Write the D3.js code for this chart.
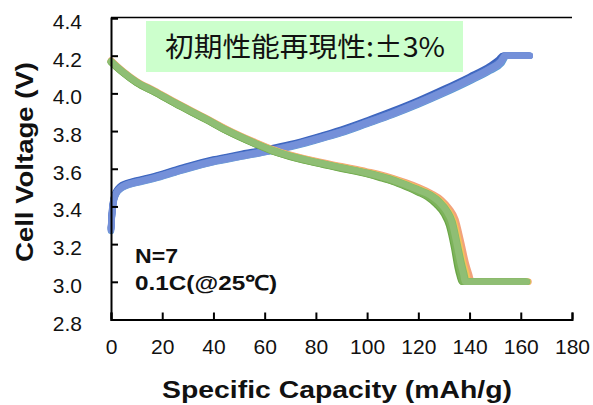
<!DOCTYPE html>
<html><head><meta charset="utf-8">
<script src="https://cdn.jsdelivr.net/npm/d3@7/dist/d3.min.js"></script>
<style>html,body{margin:0;padding:0;background:#fff;}svg{display:block;}</style>
</head><body>
<svg id="c" width="593" height="405"></svg>
<script>
// ---- data (capacity mAh/g, voltage V) ----
const xTicks = [0,20,40,60,80,100,120,140,160,180];
const yTicks = [2.8,3.0,3.2,3.4,3.6,3.8,4.0,4.2,4.4];

const charge1 = [[0,3.29],[0.4,3.38],[1,3.44],[2,3.48],[3.5,3.505],[6,3.523],[10,3.538],[17,3.561],[25,3.594],[30,3.614],[40,3.649],[50,3.676],[62,3.706],[70,3.73],[80,3.767],[90,3.808],[100,3.856],[110,3.907],[120,3.962],[130,4.023],[140,4.088],[148,4.145],[151.5,4.18],[153,4.2],[162.5,4.2]];
const charge2 = [[0,3.27],[0.4,3.35],[1,3.42],[2,3.465],[3.5,3.49],[6,3.51],[10,3.525],[17,3.548],[25,3.58],[30,3.6],[40,3.635],[50,3.662],[62,3.692],[70,3.715],[80,3.751],[90,3.79],[100,3.838],[110,3.887],[120,3.941],[130,4.0],[140,4.064],[148,4.12],[152.5,4.16],[154.5,4.2],[163.5,4.2]];
const charge3 = [[0,3.28],[0.4,3.36],[1,3.43],[2,3.47],[3.5,3.495],[6,3.514],[10,3.529],[17,3.552],[25,3.584],[30,3.604],[40,3.639],[50,3.666],[62,3.696],[70,3.719],[80,3.756],[90,3.796],[100,3.844],[110,3.894],[120,3.949],[130,4.009],[140,4.074],[148,4.13],[152,4.167],[154,4.2],[163,4.2]];
const charge4 = [[0,3.285],[0.4,3.37],[1,3.435],[2,3.475],[3.5,3.5],[6,3.519],[10,3.534],[17,3.557],[25,3.59],[30,3.61],[40,3.645],[50,3.672],[62,3.702],[70,3.725],[80,3.762],[90,3.803],[100,3.851],[110,3.901],[120,3.956],[130,4.016],[140,4.081],[148,4.138],[151.8,4.172],[153.5,4.2],[163,4.2]];
const charge5 = [[0,3.275],[0.4,3.355],[1,3.425],[2,3.468],[3.5,3.493],[6,3.512],[10,3.527],[17,3.55],[25,3.582],[30,3.602],[40,3.637],[50,3.664],[62,3.694],[70,3.717],[80,3.753],[90,3.793],[100,3.841],[110,3.89],[120,3.945],[130,4.005],[140,4.069],[148,4.125],[152.2,4.163],[154.2,4.2],[163.5,4.2]];
const charge6 = [[0,3.28],[0.4,3.36],[1,3.43],[2,3.47],[3.5,3.496],[6,3.515],[10,3.53],[17,3.553],[25,3.586],[30,3.606],[40,3.641],[50,3.668],[62,3.698],[70,3.721],[80,3.758],[90,3.798],[100,3.846],[110,3.896],[120,3.951],[130,4.011],[140,4.076],[148,4.132],[152,4.168],[153.8,4.2],[163.2,4.2]];
const charge7 = [[0,3.28],[0.4,3.36],[1,3.43],[2,3.47],[3.5,3.495],[6,3.515],[10,3.53],[17,3.553],[25,3.585],[30,3.605],[40,3.64],[50,3.667],[62,3.697],[70,3.72],[80,3.757],[90,3.797],[100,3.845],[110,3.895],[120,3.95],[130,4.01],[140,4.075],[148,4.13],[152,4.165],[154,4.2],[163.5,4.2]];

const discharge1 = [[0,4.175],[2,4.15],[5,4.115],[10,4.065],[17,4.015],[25,3.955],[37,3.87],[45,3.812],[56,3.743],[62,3.709],[68,3.682],[80,3.641],[90,3.613],[100,3.585],[105,3.57],[110,3.551],[115,3.528],[120,3.502],[125,3.47],[129,3.435],[132,3.39],[134.5,3.33],[136.5,3.22],[138.5,3.1],[139.8,3.04],[140.8,3.0],[163,3.0]];
const discharge2 = [[0,4.172],[2,4.147],[5,4.112],[10,4.062],[17,4.012],[25,3.952],[37,3.867],[45,3.809],[56,3.74],[62,3.706],[68,3.679],[80,3.638],[90,3.609],[100,3.581],[105,3.565],[110,3.546],[115,3.522],[120,3.495],[124.8,3.465],[128.5,3.43],[131.5,3.382],[133.8,3.32],[135.8,3.21],[137.5,3.1],[138.7,3.045],[139.6,3.0],[162.8,3.0]];
const discharge3 = [[0,4.168],[2,4.143],[5,4.108],[10,4.058],[17,4.008],[25,3.948],[37,3.863],[45,3.804],[56,3.735],[62,3.701],[68,3.674],[80,3.633],[90,3.604],[100,3.575],[105,3.557],[110,3.537],[115,3.511],[120,3.482],[124.2,3.455],[127.6,3.42],[130.6,3.37],[132.6,3.315],[134.6,3.2],[136.1,3.1],[137.1,3.045],[137.9,3.0],[162.2,3.0]];
const discharge4 = [[0,4.165],[2,4.14],[5,4.105],[10,4.055],[17,4.005],[25,3.945],[37,3.86],[45,3.801],[56,3.732],[62,3.698],[68,3.671],[80,3.63],[90,3.6],[100,3.571],[105,3.552],[110,3.531],[115,3.504],[120,3.474],[123.5,3.45],[127,3.41],[130,3.36],[132,3.3],[134,3.18],[135.3,3.08],[136.2,3.03],[137,3.0],[161.5,3.0]];
const discharge5 = [[0,4.166],[2,4.141],[5,4.106],[10,4.056],[17,4.006],[25,3.946],[37,3.861],[45,3.802],[56,3.733],[62,3.699],[68,3.672],[80,3.631],[90,3.602],[100,3.573],[105,3.555],[110,3.534],[115,3.508],[120,3.478],[123.8,3.452],[127.3,3.415],[130.3,3.365],[132.3,3.308],[134.3,3.19],[135.7,3.09],[136.6,3.038],[137.4,3.0],[161.8,3.0]];
const discharge6 = [[0,4.171],[2,4.146],[5,4.111],[10,4.061],[17,4.011],[25,3.951],[37,3.866],[45,3.807],[56,3.738],[62,3.704],[68,3.677],[80,3.636],[90,3.607],[100,3.579],[105,3.562],[110,3.543],[115,3.518],[120,3.49],[124.8,3.462],[128.2,3.427],[131.2,3.378],[133.3,3.32],[135.3,3.2],[136.9,3.1],[137.9,3.045],[138.8,3.0],[162.5,3.0]];
const discharge7 = [[0,4.17],[2,4.145],[5,4.11],[10,4.06],[17,4.01],[25,3.95],[37,3.865],[45,3.806],[56,3.737],[62,3.703],[68,3.676],[80,3.635],[90,3.606],[100,3.577],[105,3.56],[110,3.54],[115,3.515],[120,3.487],[124.6,3.46],[128,3.425],[131,3.375],[133,3.32],[135,3.2],[136.5,3.1],[137.5,3.045],[138.3,3.0],[162.3,3.0]];

const chargeSeries = [charge1, charge2, charge3, charge4, charge5, charge6, charge7];
const dischargeSeries = [discharge1, discharge2, discharge3, discharge4, discharge5, discharge6, discharge7];
const chargeColors = ["#3d63bd", "#5b9bd5", "#8da3d6", "#4570c6", "#7c95d8", "#6f8bd6", "#7490d9"];
const dischargeColors = ["#f2a27c", "#f5c25a", "#a9c98a", "#6aa646", "#7db35b", "#86ba69", "#8fbe74"];

const boxText = "初期性能再現性:±3%";
const note1 = "N=7";
const note2 = "0.1C(@25℃)";
const xTitle = "Specific Capacity (mAh/g)";
const yTitle = "Cell Voltage (V)";

// ---- drawing ----
const svg = d3.select("#c");
const L = 111, R = 572, T = 18, B = 319.5;
const x = d3.scaleLinear().domain([0,180]).range([L,R]);
const y = d3.scaleLinear().domain([2.8,4.4]).range([B,T]);
const font = "'Liberation Sans', Arial, sans-serif";

// text box
svg.append("rect").attr("x",146).attr("y",21).attr("width",317).attr("height",51).attr("fill","#ccffcc");
svg.append("text").attr("x",165).attr("y",57)
  .attr("font-family","'Noto Sans CJK JP', sans-serif").attr("font-size",27.5).attr("fill","#111")
  .attr("textLength",280).attr("lengthAdjust","spacingAndGlyphs")
  .text(boxText);

const line = d3.line().x(d=>x(d[0])).y(d=>y(d[1])).curve(d3.curveMonotoneX);

const g = svg.append("g");
chargeSeries.forEach((s,i)=>{
  g.append("path").attr("d", line(s)).attr("fill","none").attr("stroke",chargeColors[i])
   .attr("stroke-width",6.5).attr("stroke-linecap","round").attr("stroke-linejoin","round");
});
dischargeSeries.forEach((s,i)=>{
  g.append("path").attr("d", line(s)).attr("fill","none").attr("stroke",dischargeColors[i])
   .attr("stroke-width",6.5).attr("stroke-linecap","round").attr("stroke-linejoin","round");
});

// axes
const yAxis = d3.axisLeft(y).tickValues(yTicks).tickSize(-7).tickPadding(29).tickFormat(d3.format(".1f"));
const yg = svg.append("g").attr("transform",`translate(${L},0)`).call(yAxis);
const xAxis = d3.axisBottom(x).tickValues(xTicks).tickSize(-7).tickPadding(20).tickFormat(d3.format("d"));
const xg = svg.append("g").attr("transform",`translate(0,${B})`).call(xAxis);
[yg,xg].forEach(a=>{
  a.select(".domain").attr("stroke","#000").attr("stroke-width",2);
  a.selectAll(".tick line").attr("stroke","#000").attr("stroke-width",2);
  a.selectAll(".tick text").attr("font-family",font).attr("font-size",21).attr("fill","#111");
});
yg.selectAll(".tick text").attr("dy","0.5em");
// top frame line
svg.append("line").attr("x1",L).attr("x2",R).attr("y1",T-0.5).attr("y2",T-0.5).attr("stroke","#000").attr("stroke-width",1.5);

// titles
svg.append("text").attr("x",162).attr("y",398)
  .attr("font-family",font).attr("font-weight","bold").attr("font-size",23.5).attr("fill","#111")
  .attr("textLength",350).attr("lengthAdjust","spacingAndGlyphs").text(xTitle);
svg.append("text").attr("transform","translate(33,262) rotate(-90)")
  .attr("font-family",font).attr("font-weight","bold").attr("font-size",23.5).attr("fill","#111")
  .attr("textLength",200).attr("lengthAdjust","spacingAndGlyphs").text(yTitle);

svg.append("text").attr("x",135).attr("y",263).attr("font-family",font).attr("font-weight","bold")
  .attr("font-size",20.5).attr("fill","#111").attr("textLength",43).attr("lengthAdjust","spacingAndGlyphs").text(note1);
svg.append("text").attr("x",135).attr("y",290).attr("font-family",font).attr("font-weight","bold")
  .attr("font-size",20.5).attr("fill","#111").attr("textLength",142).attr("lengthAdjust","spacingAndGlyphs").text(note2);
</script>
</body></html>
